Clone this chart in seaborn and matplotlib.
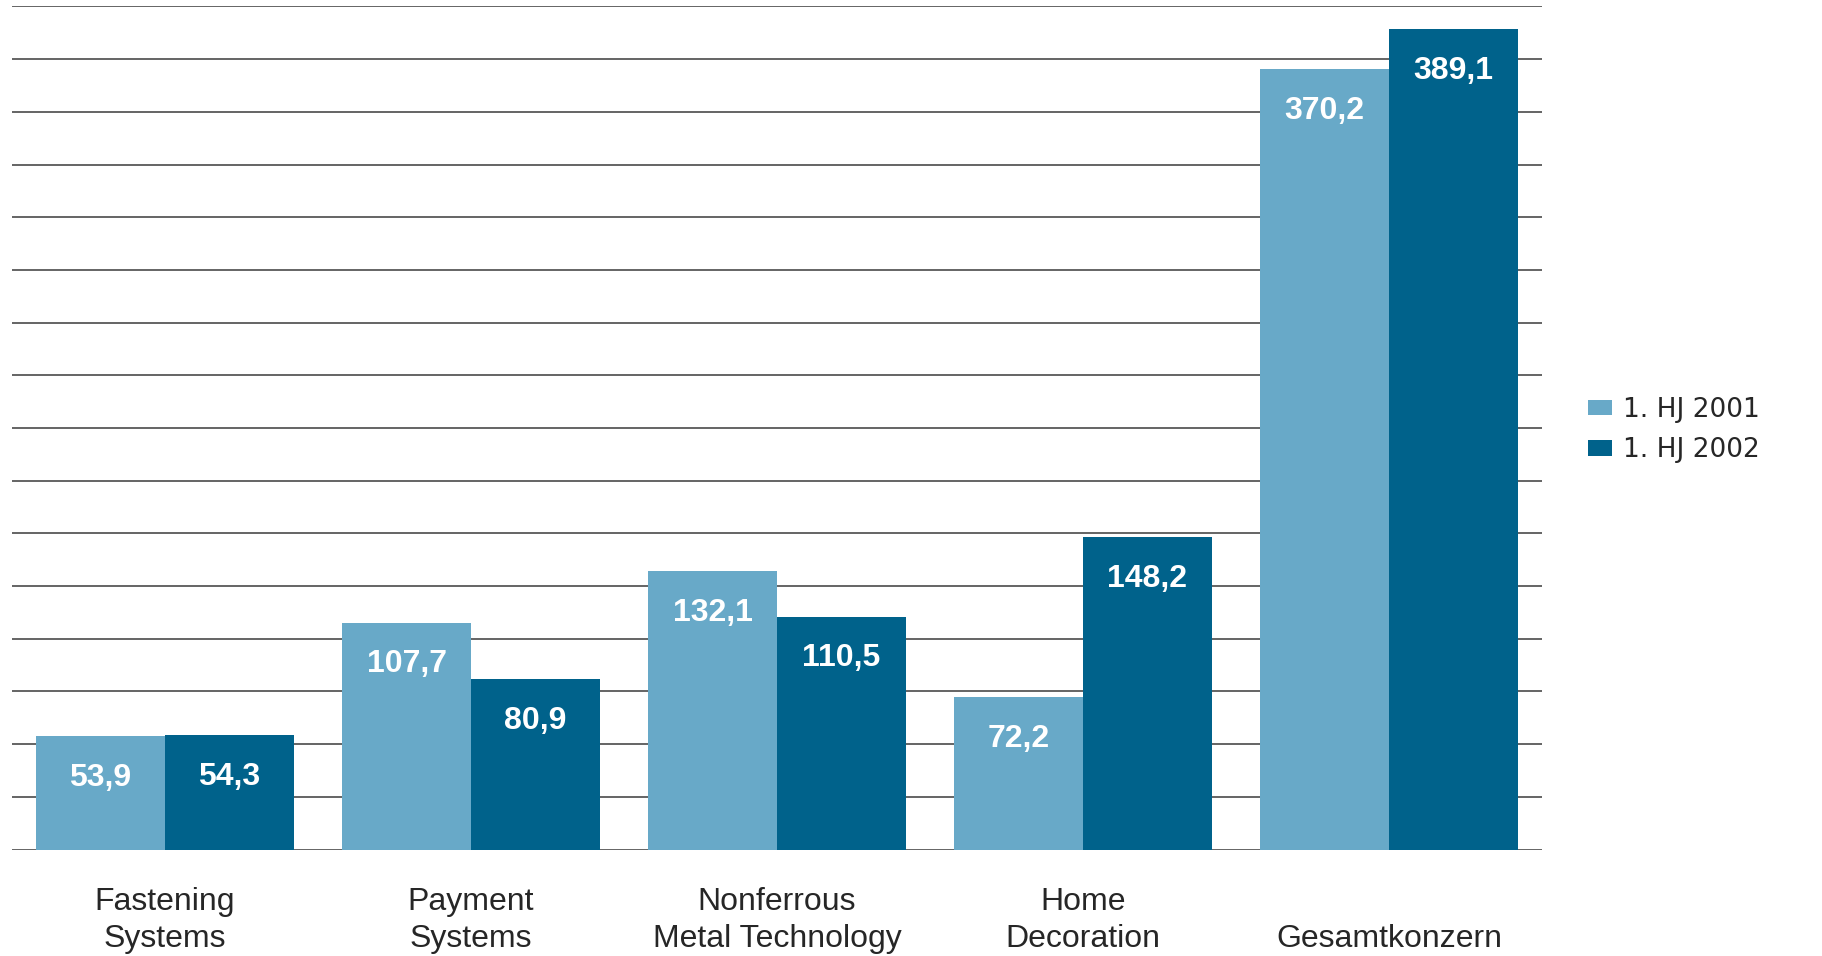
import pandas as pd
import matplotlib
matplotlib.use('Agg')
import matplotlib.pyplot as plt
import seaborn as sns

# Daten (Umsatz je Segment, 1. Halbjahr)
segments = ['Fastening\nSystems', 'Payment\nSystems', 'Nonferrous\nMetal Technology',
            'Home\nDecoration', '\nGesamtkonzern']
periods = ['1. HJ 2001', '1. HJ 2002']
values_2001 = [53.9, 107.7, 132.1, 72.2, 370.2]
values_2002 = [54.3, 80.9, 110.5, 148.2, 389.1]
y_ticks = list(range(0, 401, 25))

colors = ['#68A9C8', '#00628B']

df = pd.DataFrame({
    'segment': segments * 2,
    'period': [periods[0]] * len(segments) + [periods[1]] * len(segments),
    'value': values_2001 + values_2002,
})

sns.set_style('white')
plt.rcParams['font.family'] = ['Liberation Sans', 'DejaVu Sans']

W, H = 1822, 956
fig = plt.figure(figsize=(W / 100, H / 100), dpi=100)
ax = fig.add_axes([12 / W, 106.5 / H, (1542 - 12) / W, 843 / H])

sns.barplot(data=df, x='segment', y='value', hue='period', palette=colors,
            width=0.843, saturation=1, order=segments, hue_order=periods,
            edgecolor='none', linewidth=0, ax=ax)

ax.set_ylim(0, 400)
ax.set_xlim(-0.5, 4.5)
ax.set_yticks(y_ticks)
ax.set_yticklabels([])
ax.yaxis.grid(True, color='#4a4a4a', linewidth=1.2)
ax.set_axisbelow(True)
for s in ax.spines.values():
    s.set_visible(False)
ax.tick_params(axis='both', length=0)
ax.tick_params(axis='x', pad=27, labelsize=23)
plt.setp(ax.get_xticklabels(), linespacing=1.3)
ax.set_xlabel('')
ax.set_ylabel('')

# Werte in die Balken schreiben
for container, vals in zip(ax.containers, [values_2001, values_2002]):
    for bar, v in zip(container, vals):
        ax.annotate(f'{v:.1f}'.replace('.', ','),
                    (bar.get_x() + bar.get_width() / 2, bar.get_height()),
                    xytext=(0, -30), textcoords='offset points',
                    ha='center', va='center', color='white',
                    fontsize=23, fontweight='bold')

handles, labels = ax.get_legend_handles_labels()
if ax.get_legend() is not None:
    ax.get_legend().remove()
fig.legend(handles, labels, loc='center left',
           bbox_to_anchor=(1588 / W, 1 - 430 / H), frameon=False,
           prop={'family': 'DejaVu Sans', 'size': 19},
           handlelength=0.92, handleheight=0.53, handletextpad=0.42,
           labelspacing=0.55, borderpad=0, borderaxespad=0)

fig.savefig('out.png', dpi=100)
